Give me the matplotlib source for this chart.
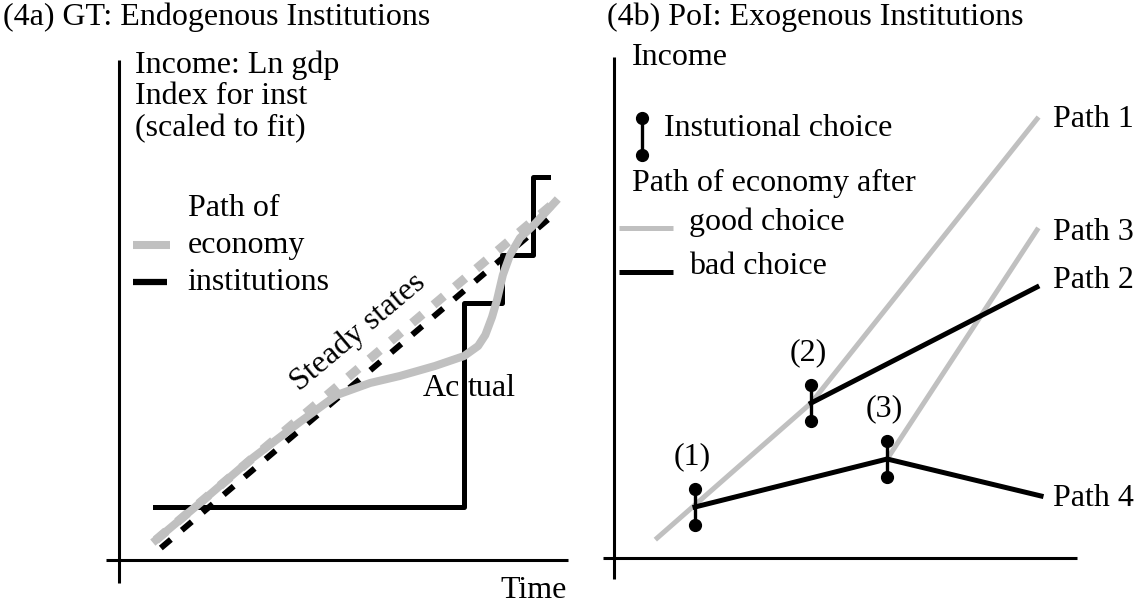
import matplotlib
matplotlib.use("Agg")
import matplotlib.pyplot as plt

plt.rcParams['font.family'] = ['Liberation Serif', 'DejaVu Serif']

GRAY = '#c0c0c0'
FS = 23

# ---- panel (4a): endogenous institutions ----
steady_x = [0.82, 9.69]
steady_y = [0.40, 7.16]
steady_inst_x = [0.93, 9.73]
steady_inst_y = [0.24, 6.96]

inst_x = [0.8, 7.67, 8.51, 9.2, 9.53]
inst_y = [1.06, 5.14, 6.1, 7.66, 7.66]

actual_x = [0.82, 1.8, 2.91, 4.02, 4.84, 5.58, 6.24, 7.02, 7.67, 7.98, 8.14, 8.29, 8.4, 8.53, 8.69, 8.91, 9.24, 9.69]
actual_y = [0.40, 1.14, 2.0, 2.76, 3.3, 3.54, 3.68, 3.88, 4.08, 4.28, 4.5, 4.86, 5.2, 5.7, 6.1, 6.44, 6.72, 7.16]

# ---- panel (4b): exogenous institutions ----
choice_x = [1.8, 4.38, 6.07]
choice_y = [1.02, 3.1, 1.98]
choice_labels = ['(1)', '(2)', '(3)']

path1_x = [0.96, 4.38, 9.4]
path1_y = [0.4, 3.1, 8.78]
path2_x = [4.38, 9.4]
path2_y = [3.1, 5.42]
path3_x = [6.07, 9.4]
path3_y = [1.98, 6.56]
path4_x = [1.8, 6.07, 9.49]
path4_y = [1.02, 1.98, 1.24]
path_labels = ['Path 1', 'Path 2', 'Path 3', 'Path 4']
path_label_y = [8.78, 5.56, 6.52, 1.2]

W, H = 1136, 606
fig = plt.figure(figsize=(W / 100, H / 100), dpi=100)

XU, YU = 45.0, 50.0          # pixels per data unit
XL, YL = (-0.6, 10.6), (-0.9, 11.0)


def make_axes(ox, oy):
    left = ox + XL[0] * XU
    bottom = oy - YL[0] * YU
    w = (XL[1] - XL[0]) * XU
    h = (YL[1] - YL[0]) * YU
    ax = fig.add_axes([left / W, (H - bottom) / H, w / W, h / H])
    ax.set_xlim(*XL)
    ax.set_ylim(*YL)
    ax.axis('off')
    return ax


def draw_frame(ax, x_end, y_top, x_start, y_bot):
    ax.plot([0, 0], [y_bot, y_top], color='black', lw=2.2, solid_capstyle='butt')
    ax.plot([x_start, x_end], [0, 0], color='black', lw=2.2, solid_capstyle='butt')


axa = make_axes(119, 560)
axb = make_axes(614, 558)

draw_frame(axa, 9.98, 10.0, -0.29, -0.46)
draw_frame(axb, 10.29, 10.02, -0.24, -0.42)

fig.text(3 / W, 1 - 17 / H, '(4a) GT: Endogenous Institutions', fontsize=FS, va='center')
fig.text(607 / W, 1 - 17 / H, '(4b) PoI: Exogenous Institutions', fontsize=FS, va='center')

# panel a
axa.plot(inst_x, inst_y, color='black', lw=3.6, drawstyle='steps-post', zorder=3)
axa.plot(steady_x, steady_y, color=GRAY, lw=6.5, dashes=[1.5, 1.6], dash_capstyle='butt', zorder=2)
axa.plot(steady_inst_x, steady_inst_y, color='black', lw=4.3, dashes=[2.2, 2.4], dash_capstyle='butt', zorder=2)
axa.plot(actual_x, actual_y, color=GRAY, lw=5.8, solid_joinstyle='round', zorder=4)

axa.text(0.36, 10.2, 'Income: Ln gdp\nIndex for inst\n(scaled to fit)', fontsize=FS, va='top', linespacing=1.12)
axa.text(1.53, 7.04, 'Path of', fontsize=FS, va='center')
axa.text(1.53, 6.3, 'economy', fontsize=FS, va='center')
axa.text(1.53, 5.56, 'institutions', fontsize=FS, va='center')
axa.plot([0.31, 1.13], [6.3, 6.3], color=GRAY, lw=5.8, solid_capstyle='butt')
axa.plot([0.31, 1.07], [5.56, 5.56], color='black', lw=4.5, solid_capstyle='butt')
axa.text(5.31, 4.56, 'Steady states', fontsize=FS, rotation=40, ha='center', va='center',
         rotation_mode='anchor')
axa.text(7.58, 3.42, 'Ac', fontsize=FS, ha='right', va='center')
axa.text(7.76, 3.42, 'tual', fontsize=FS, ha='left', va='center')
axa.text(9.96, -0.6, 'Time', fontsize=FS, ha='right', va='center')

# panel b
axb.plot(path1_x, path1_y, color=GRAY, lw=3.6, zorder=2)
axb.plot(path3_x, path3_y, color=GRAY, lw=3.6, zorder=2)
axb.plot(path2_x, path2_y, color='black', lw=3.6, zorder=3)
axb.plot(path4_x, path4_y, color='black', lw=3.6, zorder=3)
for cx, cy, lab in zip(choice_x, choice_y, choice_labels):
    axb.plot([cx, cx], [cy - 0.36, cy + 0.36], color='black', lw=2.4, marker='o', ms=8.5, zorder=4)
    axb.text(cx - 0.07, cy + 1.0, lab, fontsize=FS, ha='center', va='center')
for lab, ly in zip(path_labels, path_label_y):
    axb.text(9.76, ly, lab, fontsize=FS, ha='left', va='center')

axb.text(0.4, 10.02, 'Income', fontsize=FS, va='center')
axb.plot([0.62, 0.62], [8.06, 8.8], color='black', lw=2.4, marker='o', ms=8.5)
axb.text(1.11, 8.6, 'Instutional choice', fontsize=FS, va='center')
axb.text(0.4, 7.5, 'Path of economy after', fontsize=FS, va='center')
axb.plot([0.11, 1.31], [6.6, 6.6], color=GRAY, lw=3.6, solid_capstyle='butt')
axb.text(1.67, 6.72, 'good choice', fontsize=FS, va='center')
axb.plot([0.11, 1.31], [5.72, 5.72], color='black', lw=3.6, solid_capstyle='butt')
axb.text(1.67, 5.82, 'bad choice', fontsize=FS, va='center')

fig.savefig('out.png', dpi=100, facecolor='white')
